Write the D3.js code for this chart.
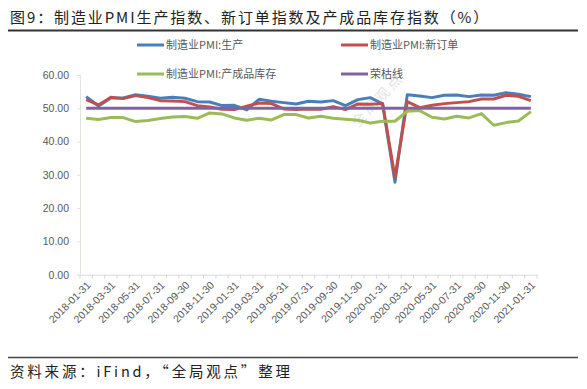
<!DOCTYPE html>
<html><head><meta charset="utf-8">
<script src="https://cdn.jsdelivr.net/npm/d3@7"></script>
<style>
html,body{margin:0;padding:0;background:#fff;}
svg{display:block;}
</style></head>
<body>
<svg id="c" width="587" height="389"></svg>
<script>
const dates = ["2018-01-31","2018-02-28","2018-03-31","2018-04-30","2018-05-31","2018-06-30","2018-07-31","2018-08-31","2018-09-30","2018-10-31","2018-11-30","2018-12-31",
"2019-01-31","2019-02-28","2019-03-31","2019-04-30","2019-05-31","2019-06-30","2019-07-31","2019-08-31","2019-09-30","2019-10-31","2019-11-30","2019-12-31",
"2020-01-31","2020-02-29","2020-03-31","2020-04-30","2020-05-31","2020-06-30","2020-07-31","2020-08-31","2020-09-30","2020-10-31","2020-11-30","2020-12-31",
"2021-01-31"];
const production = [53.5,50.7,53.1,53.1,54.1,53.6,53.0,53.3,53.0,52.0,51.9,50.8,
50.9,49.5,52.7,52.1,51.7,51.3,52.1,51.9,52.3,50.8,52.6,53.2,
51.3,27.8,54.1,53.7,53.2,53.9,54.0,53.5,54.0,53.9,54.7,54.2,
53.5];
const newOrders = [52.6,51.0,53.3,52.9,53.8,53.2,52.3,52.2,52.0,50.8,50.4,49.7,
49.6,50.6,51.6,51.4,49.8,49.6,49.8,49.7,50.5,49.6,51.3,51.2,
51.4,29.3,52.0,50.2,50.9,51.4,51.7,52.0,52.8,52.8,53.9,53.6,
52.3];
const inventory = [47.0,46.6,47.2,47.2,46.0,46.3,46.9,47.4,47.5,47.0,48.6,48.3,
47.1,46.4,47.0,46.5,48.1,48.1,47.1,47.6,47.0,46.7,46.4,45.6,
46.1,46.1,49.1,49.3,47.3,46.8,47.6,47.1,48.4,44.9,45.7,46.2,
49.0];
const boomBust = dates.map(() => 50);
const yTicks = [0,10,20,30,40,50,60];
const seriesNames = ["制造业PMI:生产","制造业PMI:新订单","制造业PMI:产成品库存","荣枯线"];
const colors = ["#4A7EBB","#C0504D","#9BBB59","#8064A2"];
const title = "图9：制造业PMI生产指数、新订单指数及产成品库存指数（%）";
const source = "资料来源：iFind，“全局观点”整理";

const svg = d3.select("#c");
const cjk = "'Noto Sans CJK SC','Noto Sans',sans-serif";

// title
svg.append("text").attr("x",10).attr("y",23).attr("font-family",cjk).attr("font-size",15)
  .attr("letter-spacing","1.9px").attr("fill","#222").text(title);
svg.append("line").attr("x1",8).attr("x2",578).attr("y1",30.5).attr("y2",30.5).attr("stroke","#333").attr("stroke-width",2);

// footer
svg.append("line").attr("x1",8).attr("x2",578).attr("y1",357.5).attr("y2",357.5).attr("stroke","#444").attr("stroke-width",1.5);
svg.append("text").attr("x",10).attr("y",377).attr("font-family",cjk).attr("font-size",14.5)
  .attr("letter-spacing","2.8px").attr("fill","#222").text(source);

const x = d3.scaleBand().domain(dates).range([80,537]);
const y = d3.scaleLinear().domain([0,60]).range([274.7,75]);

// watermark
svg.append("text").attr("transform","translate(358,128) rotate(-47)")
  .attr("font-family",cjk).attr("font-size",14).attr("fill","#e3e3e3").attr("letter-spacing","3px").text("全局观点");

// y axis
const yAx = svg.append("g").attr("transform","translate(80,0)")
  .call(d3.axisLeft(y).tickValues(yTicks).tickFormat(d3.format(".2f")).tickSize(3).tickPadding(8));
yAx.select(".domain").attr("stroke","#e4e4dc");
yAx.selectAll(".tick line").attr("stroke","#e4e4dc");
yAx.selectAll(".tick text").attr("font-family","'Liberation Sans',sans-serif").attr("font-size",10.5).attr("fill","#595959");

// x axis
const xAx = svg.append("g").attr("transform",`translate(0,${y(0)})`)
  .call(d3.axisBottom(x).tickSize(0).tickFormat((d,i)=> i%2===0 ? d : ""));
xAx.select(".domain").attr("stroke","#d9d9d9");
xAx.selectAll(".tick text").attr("font-family","'Liberation Sans',sans-serif").attr("font-size",10.5).attr("fill","#595959")
  .attr("text-anchor","end").attr("dy",0).attr("transform","translate(3,9) rotate(-45)");
// boundary tick marks
const bounds = dates.map(d => x(d)).concat([x.range()[1]]);
svg.append("g").selectAll("line").data(bounds).join("line")
  .attr("x1",d=>d).attr("x2",d=>d).attr("y1",y(0)).attr("y2",y(0)+4).attr("stroke","#d9d9d9");

const cx = d => x(d) + x.bandwidth()/2;
const line = d3.line().x((v,i)=>cx(dates[i])).y(v=>y(v));
[production,newOrders,inventory,boomBust].forEach((s,k)=>{
  svg.append("path").attr("d",line(s)).attr("fill","none").attr("stroke",colors[k])
    .attr("stroke-width",3).attr("stroke-linejoin","round");
});

// legend
const leg = [[137,45],[341,45],[137,74],[341,74]];
seriesNames.forEach((n,k)=>{
  const [lx,ly] = leg[k];
  svg.append("line").attr("x1",lx).attr("x2",lx+27).attr("y1",ly).attr("y2",ly).attr("stroke",colors[k]).attr("stroke-width",3);
  svg.append("text").attr("x",lx+29).attr("y",ly+4).attr("font-family",cjk).attr("font-size",11).attr("fill","#595959").text(n);
});
</script>
</body></html>
